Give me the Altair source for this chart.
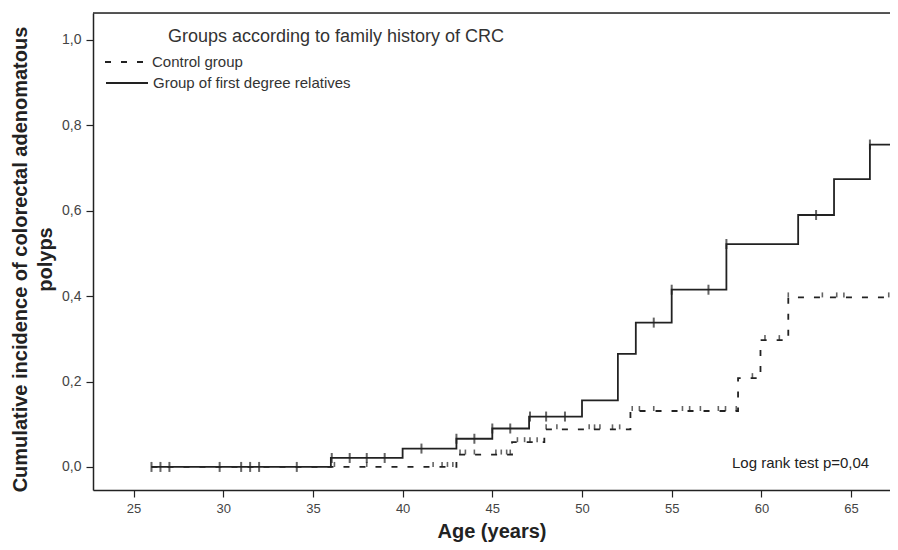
import altair as alt
import pandas as pd

groups = ["Control group", "Group of first degree relatives"]

# Kaplan-Meier style step curves (age at step, cumulative incidence from that age)
ctrl_step_age = [26.0, 43.0, 46.1, 47.9, 52.7, 58.7, 59.95, 61.5, 67.2]
ctrl_step_val = [0.0, 0.029, 0.058, 0.088, 0.131, 0.208, 0.297, 0.397, 0.397]

fdr_step_age = [26.0, 36.0, 40.0, 43.0, 45.0, 47.05, 50.0, 52.0, 53.0, 55.0,
                58.05, 62.05, 64.05, 66.05, 67.6]
fdr_step_val = [0.0, 0.021, 0.043, 0.066, 0.090, 0.118, 0.156, 0.265, 0.338, 0.415,
                0.522, 0.590, 0.674, 0.755, 0.755]

# censored observations (ages)
ctrl_censor = [36.2, 38.0, 41.7, 42.2, 42.5, 42.8, 43.2, 43.5, 44.0, 45.2, 45.5,
               45.8, 46.0, 46.4, 46.8, 47.1, 47.5, 48.0, 48.6, 50.4, 50.7, 51.0,
               51.7, 52.1, 52.8, 53.2, 54.0, 55.6, 56.0, 56.6, 57.6, 58.0, 58.6,
               59.5, 60.2, 61.0, 61.5, 63.4, 64.2, 64.6, 67.1]
fdr_censor = [26.0, 26.5, 27.0, 29.8, 31.0, 31.5, 32.0, 34.1, 36.05, 37.05, 38.0,
              39.0, 41.05, 43.0, 44.0, 45.0, 46.0, 47.1, 48.0, 49.05, 54.0, 55.0,
              57.05, 58.05, 63.05, 66.05]

x_ticks = [25, 30, 35, 40, 45, 50, 55, 60, 65]
y_ticks = [0.0, 0.2, 0.4, 0.6, 0.8, 1.0]

legend_title = "Groups according to family history of CRC"
test_text = "Log rank test p=0,04"
x_title = "Age (years)"
y_title = ["Cumulative incidence of colorectal adenomatous", "polyps"]


def level_at(ages, vals, t):
    v = vals[0]
    for a, val in zip(ages, vals):
        if a <= t + 1e-9:
            v = val
    return v


lines = pd.DataFrame(
    [{"group": groups[0], "age": a, "value": v} for a, v in zip(ctrl_step_age, ctrl_step_val)]
    + [{"group": groups[1], "age": a, "value": v} for a, v in zip(fdr_step_age, fdr_step_val)]
)
cens_ctrl = pd.DataFrame({"age": ctrl_censor,
                          "value": [level_at(ctrl_step_age, ctrl_step_val, t) for t in ctrl_censor]})
cens_fdr = pd.DataFrame({"age": fdr_censor,
                         "value": [level_at(fdr_step_age, fdr_step_val, t) for t in fdr_censor]})

W = 797
H = 477
FONT = "Liberation Sans"
INK = "#222222"

xscale = alt.Scale(domain=[22.74, 67.17], nice=False, zero=False)
yscale = alt.Scale(domain=[-0.054, 1.063], nice=False, zero=False)

x_axis = alt.Axis(values=x_ticks, title=x_title, grid=False, tickSize=7,
                  labelFontSize=13, labelColor="#444444", labelFont=FONT,
                  labelPadding=5, tickColor=INK, domainColor=INK, domainWidth=1.5,
                  tickWidth=1.2, titleFont=FONT, titleFontSize=20,
                  titleFontWeight="bold", titleColor=INK,
                  titleBaseline="middle", titleY=41)
y_axis = alt.Axis(values=y_ticks, title=y_title, grid=False, tickSize=7,
                  labelExpr="replace(format(datum.value, '.1f'), '.', ',')",
                  labelFontSize=14, labelColor="#444444", labelFont=FONT,
                  labelPadding=5, tickColor=INK, domainColor=INK, domainWidth=1.5,
                  tickWidth=1.2, titleFont=FONT, titleFontSize=20,
                  titleFontWeight="bold", titleColor=INK, titleAngle=-90,
                  titleBaseline="top", titleAlign="center", titleX=-83,
                  titleY=246, titleLineHeight=25)

base_x = alt.X("age:Q", scale=xscale, axis=x_axis)
base_y = alt.Y("value:Q", scale=yscale, axis=y_axis)

curves = alt.Chart(lines).mark_line(interpolate="step-after", clip=True,
                                    strokeWidth=1.8, color=INK).encode(
    x=base_x, y=base_y,
    strokeDash=alt.StrokeDash("group:N", scale=alt.Scale(domain=groups, range=[[6, 10], [1, 0]]),
                              legend=None),
    detail="group:N",
)

ticks_fdr = alt.Chart(cens_fdr).mark_tick(orient="vertical", size=10, thickness=2,
                                          color=INK, clip=True).encode(
    x=alt.X("age:Q", scale=xscale), y=alt.Y("value:Q", scale=yscale))
ticks_ctrl = alt.Chart(cens_ctrl).mark_tick(orient="vertical", size=5, thickness=1.6,
                                            color=INK, yOffset=-2.5, clip=True).encode(
    x=alt.X("age:Q", scale=xscale), y=alt.Y("value:Q", scale=yscale))

top_frame = alt.Chart(pd.DataFrame({"k": [0]})).mark_rule(color=INK, strokeWidth=1.5).encode(
    x=alt.value(0), x2=alt.value(W), y=alt.value(0))

txt = pd.DataFrame({"t": [legend_title]})
leg_title = alt.Chart(txt).mark_text(align="left", baseline="middle", font=FONT,
                                     fontSize=18, color="#333333").encode(
    x=alt.value(75), y=alt.value(24), text="t:N")

leg_df0 = pd.DataFrame({"t": [groups[0]]})
leg_df1 = pd.DataFrame({"t": [groups[1]]})
leg_line0 = alt.Chart(leg_df0).mark_rule(color=INK, strokeWidth=1.8, strokeDash=[6, 10]).encode(
    x=alt.value(12), x2=alt.value(52), y=alt.value(49))
leg_line1 = alt.Chart(leg_df1).mark_rule(color=INK, strokeWidth=1.8).encode(
    x=alt.value(13), x2=alt.value(55), y=alt.value(70))
leg_lab0 = alt.Chart(leg_df0).mark_text(align="left", baseline="middle", font=FONT,
                                        fontSize=15, color="#333333").encode(
    x=alt.value(59), y=alt.value(49), text="t:N")
leg_lab1 = alt.Chart(leg_df1).mark_text(align="left", baseline="middle", font=FONT,
                                        fontSize=15, color="#333333").encode(
    x=alt.value(60), y=alt.value(70), text="t:N")

pval = alt.Chart(pd.DataFrame({"t": [test_text]})).mark_text(
    align="left", baseline="middle", font=FONT, fontSize=15, color="#222222").encode(
    x=alt.value(639), y=alt.value(450), text="t:N")

chart = alt.layer(
    curves, ticks_fdr, ticks_ctrl, top_frame,
    leg_title, leg_line0, leg_line1, leg_lab0, leg_lab1, pval,
).properties(
    width=W, height=H,
    autosize=alt.AutoSizeParams(type="none"),
    padding={"left": 85, "top": 5, "right": 0, "bottom": 53},
).configure_view(stroke=None).configure(background="white")

chart.save("out.html", embed_options={"renderer": "svg", "actions": False})
